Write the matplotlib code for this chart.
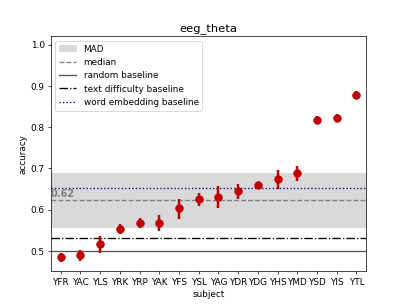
import matplotlib
matplotlib.use("Agg")
import matplotlib.pyplot as plt
import numpy as np

subjects = ["YFR", "YAC", "YLS", "YRK", "YRP", "YAK", "YFS", "YSL", "YAG", "YDR",
            "YDG", "YHS", "YMD", "YSD", "YIS", "YTL"]
accuracy = [0.484, 0.489, 0.517, 0.553, 0.567, 0.567, 0.603, 0.626, 0.631, 0.645,
            0.660, 0.673, 0.688, 0.818, 0.822, 0.878]
err_low = [0.010, 0.013, 0.022, 0.013, 0.012, 0.020, 0.025, 0.017, 0.028, 0.020,
           0.008, 0.022, 0.018, 0.010, 0.010, 0.010]
err_high = [0.010, 0.013, 0.020, 0.013, 0.012, 0.020, 0.022, 0.014, 0.025, 0.018,
            0.008, 0.022, 0.018, 0.010, 0.010, 0.010]
median_val = 0.623
mad_low, mad_high = 0.558, 0.689
random_baseline = 0.5
text_baseline = 0.53
embed_baseline = 0.652

DPI = 63.6
fig = plt.figure(figsize=(6.4, 4.8), dpi=DPI)
ax = fig.add_axes([0.125, 0.11, 0.775, 0.77])

x = np.arange(len(subjects))
ax.axhspan(mad_low, mad_high, color="#d9d9d9", label="MAD", zorder=0)
ax.axhline(median_val, color="grey", ls="--", lw=1.5, label="median", zorder=1)
ax.axhline(random_baseline, color="#555555", ls="-", lw=1.5, label="random baseline", zorder=1)
ax.axhline(text_baseline, color="black", ls="-.", lw=1.5, label="text difficulty baseline", zorder=1)
ax.axhline(embed_baseline, color="darkblue", ls=":", lw=1.5, label="word embedding baseline", zorder=1)
ax.text(-0.5, median_val + 0.004, f"{median_val:.2f}", color="grey", fontsize=11,
        fontweight="bold", ha="left", va="bottom")

ax.errorbar(x, accuracy, yerr=[err_low, err_high], fmt="o", color="#c00000",
            ms=8.5, elinewidth=2.8, capsize=0, zorder=3)

ax.set_xticks(x)
ax.set_xticklabels(subjects)
ax.set_xlim(-0.5, len(subjects) - 0.5)
ax.set_ylim(0.45, 1.02)
ax.set_yticks([0.5, 0.6, 0.7, 0.8, 0.9, 1.0])
ax.set_xlabel("subject")
ax.set_ylabel("accuracy")
ax.set_title("eeg_theta", fontsize=13)
ax.legend(loc="upper left")

fig.savefig("out.png", dpi=DPI)
